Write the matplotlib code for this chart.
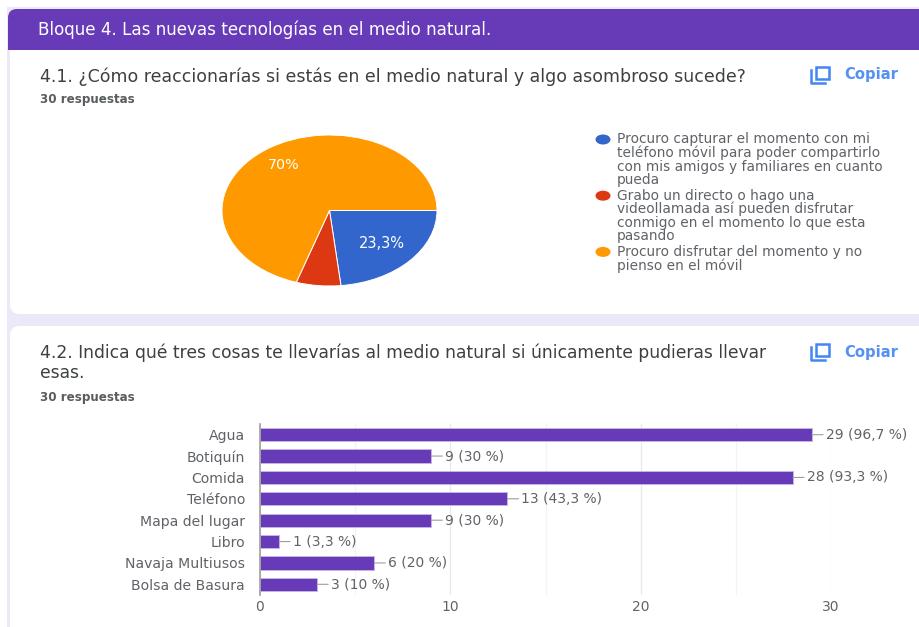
import matplotlib
matplotlib.use("Agg")
import matplotlib.pyplot as plt
from matplotlib.patches import Ellipse, FancyBboxPatch, Rectangle

W, H = 920, 627

header = "Bloque 4. Las nuevas tecnologías en el medio natural."
q1 = "4.1. ¿Cómo reaccionarías si estás en el medio natural y algo asombroso sucede?"
q2 = ["4.2. Indica qué tres cosas te llevarías al medio natural si únicamente pudieras llevar", "esas."]
answers = "30 respuestas"

pie_values = [23.3, 6.7, 70]
pie_labels = ["23,3%", "", "70%"]
pie_colors = ["#3366cc", "#dc3912", "#ff9900"]
legend_lines = [
    ["Procuro capturar el momento con mi", "teléfono móvil para poder compartirlo",
     "con mis amigos y familiares en cuanto", "pueda"],
    ["Grabo un directo o hago una", "videollamada así pueden disfrutar",
     "conmigo en el momento lo que esta", "pasando"],
    ["Procuro disfrutar del momento y no", "pienso en el móvil"],
]

items = ["Agua", "Botiquín", "Comida", "Teléfono", "Mapa del lugar", "Libro", "Navaja Multiusos", "Bolsa de Basura"]
counts = [29, 9, 28, 13, 9, 1, 6, 3]
count_labels = ["29 (96,7 %)", "9 (30 %)", "28 (93,3 %)", "13 (43,3 %)", "9 (30 %)", "1 (3,3 %)", "6 (20 %)", "3 (10 %)"]
major_ticks = [0, 10, 20, 30]
minor_ticks = [5, 15, 25]

PURPLE = "#673ab7"
BACK = "#ece8f7"
DARK = "#3c4043"
GREY = "#5f6368"
BLUE = "#4285f4"

plt.rcParams["font.family"] = "DejaVu Sans"

fig = plt.figure(figsize=(W / 100, H / 100), dpi=100)

# page in pixel coordinates
bg = fig.add_axes([0, 0, 1, 1])
bg.set_xlim(0, W)
bg.set_ylim(H, 0)
bg.axis("off")
bg.add_patch(Rectangle((7, 7), W, H, color=BACK, lw=0))

# cards run off the right edge
bg.add_patch(FancyBboxPatch((18, 24), W + 30, 282, boxstyle="round,pad=8,rounding_size=10", fc="white", ec="none"))
bg.add_patch(FancyBboxPatch((14, 15), W + 30, 29, boxstyle="round,pad=6,rounding_size=9", fc=PURPLE, ec="none"))
bg.add_patch(Rectangle((8, 32), W, 18, color=PURPLE, lw=0))
bg.add_patch(FancyBboxPatch((18, 334), W + 30, 320, boxstyle="round,pad=8,rounding_size=10", fc="white", ec="none"))

bg.text(38.5, 29.5, header, color="white", fontsize=12.1, va="center")
bg.text(40, 76.5, q1, color=DARK, fontsize=12.5, va="center")
bg.text(40, 100, answers, color=DARK, fontsize=8.6, va="center", fontweight="bold", alpha=0.85)
bg.text(40, 353, q2[0], color=DARK, fontsize=12.35, va="center")
bg.text(40, 373, q2[1], color=DARK, fontsize=12.35, va="center")
bg.text(40, 398, answers, color=DARK, fontsize=8.6, va="center", fontweight="bold", alpha=0.85)

# copy buttons
for top in (66, 343):
    bg.add_patch(Rectangle((816, top + 1), 13, 11.5, fc="none", ec=BLUE, lw=1.8))
    bg.plot([810.8, 810.8, 825], [top + 4, top + 16.5, top + 16.5], color=BLUE, lw=1.8)
    bg.text(844, top + 9, "Copiar", color=BLUE, fontsize=10.6, va="center", fontweight="bold", alpha=0.9)

# legend of the pie
y = 139.5
for color, lines in zip(pie_colors, legend_lines):
    bg.add_patch(Ellipse((603, y), 15, 10, color=color, lw=0))
    for i, line in enumerate(lines):
        bg.text(617, y + i * 13.5, line, color=GREY, fontsize=9.95, va="center")
    y += len(lines) * 14.05

# pie, squashed like the screenshot
ax1 = fig.add_axes([222 / W, 1 - 286 / H, 215 / W, 151 / H])
wedges, texts = ax1.pie(pie_values, colors=pie_colors, startangle=0, counterclock=False, radius=1,
                        wedgeprops={"edgecolor": "white", "linewidth": 0.7})
ax1.set_aspect("auto")
ax1.set_xlim(-1, 1)
ax1.set_ylim(-1, 1)
ax1.text(0.49, -0.44, pie_labels[0], color="white", fontsize=10.5, ha="center", va="center")
ax1.text(-0.43, 0.6, pie_labels[2], color="white", fontsize=10.3, ha="center", va="center")

# bars
ax2 = fig.add_axes([260 / W, 1 - 595 / H, 571 / W, 171 / H])
ypos = list(range(len(items)))
ax2.barh(ypos, counts, height=0.62, color=PURPLE, edgecolor="#c9b8e6", linewidth=0.6, zorder=3)
ax2.set_ylim(len(items) - 0.5, -0.5)
ax2.set_xlim(0, 30)
ax2.set_yticks(ypos)
ax2.set_yticklabels(items, color=GREY, fontsize=10.1)
ax2.set_xticks(major_ticks)
ax2.set_xticklabels([str(t) for t in major_ticks], color=GREY, fontsize=10)
ax2.set_xticks(minor_ticks, minor=True)
ax2.tick_params(axis="both", which="both", length=0)
ax2.tick_params(axis="y", pad=10.8)
ax2.tick_params(axis="x", pad=3.5)
ax2.grid(axis="x", which="major", color="#e8e8e8", lw=0.9, zorder=0)
ax2.grid(axis="x", which="minor", color="#f3f3f3", lw=0.9, zorder=0)
for side in ("top", "right", "bottom"):
    ax2.spines[side].set_visible(False)
ax2.spines["left"].set_color("#9e9e9e")
ax2.spines["left"].set_linewidth(1.2)
ax2.spines["left"].set_zorder(4)

for yp, c, lab in zip(ypos, counts, count_labels):
    ax2.annotate(lab, xy=(c, yp), xytext=(10, 0), textcoords="offset points", color=GREY, fontsize=10,
                 va="center", ha="left", annotation_clip=False, zorder=5,
                 arrowprops={"arrowstyle": "-", "color": "#9e9e9e", "lw": 0.8, "shrinkA": 0, "shrinkB": 0})

fig.savefig("out.png", dpi=100)
